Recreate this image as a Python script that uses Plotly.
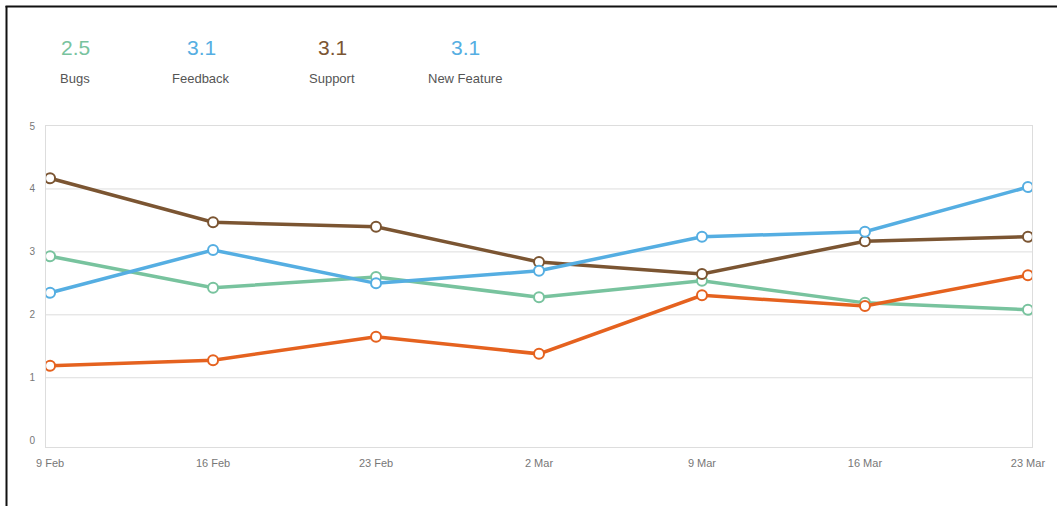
import plotly.graph_objects as go

# Weekly dates on the x axis
weeks = ["9 Feb", "16 Feb", "23 Feb", "2 Mar", "9 Mar", "16 Mar", "23 Mar"]

# Series values per week
bugs = [2.93, 2.43, 2.60, 2.28, 2.54, 2.19, 2.08]
feedback = [2.35, 3.03, 2.50, 2.70, 3.24, 3.32, 4.03]
support = [4.17, 3.47, 3.40, 2.84, 2.65, 3.17, 3.24]
other = [1.19, 1.28, 1.65, 1.38, 2.31, 2.14, 2.63]

# Y axis ticks and the levels that get a grid line
y_ticks = [0, 1, 2, 3, 4, 5]
grid_levels = [1, 2, 3, 4]

# Summary figures shown in the header
summary_labels = ["Bugs", "Feedback", "Support", "New Feature"]
summary_values = ["2.5", "3.1", "3.1", "3.1"]

GREEN = "#78c39e"
BLUE = "#55aee2"
BROWN = "#7b5532"
ORANGE = "#e5621f"
summary_colors = [GREEN, BLUE, BROWN, BLUE]

W, H = 1057, 506
L, R, T, B = 46, 1032, 126, 447  # plot area in pixels

idx = list(range(len(weeks)))
fig = go.Figure()

for name, vals, col in [("Bugs", bugs, GREEN), ("Support", support, BROWN),
                        ("Feedback", feedback, BLUE), ("Other", other, ORANGE)]:
    fig.add_trace(go.Scatter(
        x=idx, y=vals, name=name, mode="lines+markers",
        line=dict(color=col, width=3.5),
        marker=dict(symbol="circle", size=10, color="white",
                    line=dict(color=col, width=2)),
        hoverinfo="x+y",
    ))

def px_to_paper_x(px):
    return (px - L) / (R - L)

def px_to_paper_y(py):
    return (B - py) / (B - T)

annotations = []
for cx, lab, val, col in zip([75, 201, 332, 465], summary_labels, summary_values, summary_colors):
    annotations.append(dict(x=px_to_paper_x(cx), y=px_to_paper_y(47), xref="paper", yref="paper",
                            text=val, showarrow=False, xanchor="center", yanchor="middle",
                            font=dict(size=21, color=col, family="Liberation Sans, Arial")))
    annotations.append(dict(x=px_to_paper_x(cx), y=px_to_paper_y(78), xref="paper", yref="paper",
                            text=lab, showarrow=False, xanchor="center", yanchor="middle",
                            font=dict(size=13, color="#555555", family="Liberation Sans, Arial")))

# Horizontal grid lines (none at zero, where the frame sits)
shapes = [
    dict(type="line", xref="paper", yref="y", x0=0, x1=1, y0=g, y1=g,
         line=dict(color="#dddddd", width=1), layer="below")
    for g in grid_levels
]

# Frame lines along the left and top edges of the card
shapes += [
    dict(type="line", xref="paper", yref="paper",
         x0=px_to_paper_x(6.5), x1=px_to_paper_x(6.5),
         y0=px_to_paper_y(6), y1=px_to_paper_y(506), line=dict(color="#111111", width=2)),
    dict(type="line", xref="paper", yref="paper",
         x0=px_to_paper_x(5.5), x1=px_to_paper_x(1057),
         y0=px_to_paper_y(6.5), y1=px_to_paper_y(6.5), line=dict(color="#111111", width=2)),
]

fig.update_layout(
    width=W, height=H,
    margin=dict(l=L, r=W - R, t=T, b=H - B, pad=0),
    paper_bgcolor="white", plot_bgcolor="white",
    showlegend=False,
    font=dict(family="Liberation Sans, Arial", color="#777777"),
    annotations=annotations,
    shapes=shapes,
    xaxis=dict(
        range=[-0.025, 6.025], tickmode="array", tickvals=idx, ticktext=weeks,
        showgrid=False, zeroline=False, showline=True, mirror=True,
        linecolor="#dddddd", linewidth=1, ticks="",
        tickfont=dict(size=11, color="#777777"), ticklabelstandoff=6,
    ),
    yaxis=dict(
        range=[-0.1, 5], tickvals=y_ticks,
        showgrid=False, zeroline=False,
        showline=True, mirror=True, linecolor="#dddddd", linewidth=1, ticks="",
        tickfont=dict(size=10, color="#777777"), ticklabelstandoff=8,
    ),
)

fig.write_html("out.html")
